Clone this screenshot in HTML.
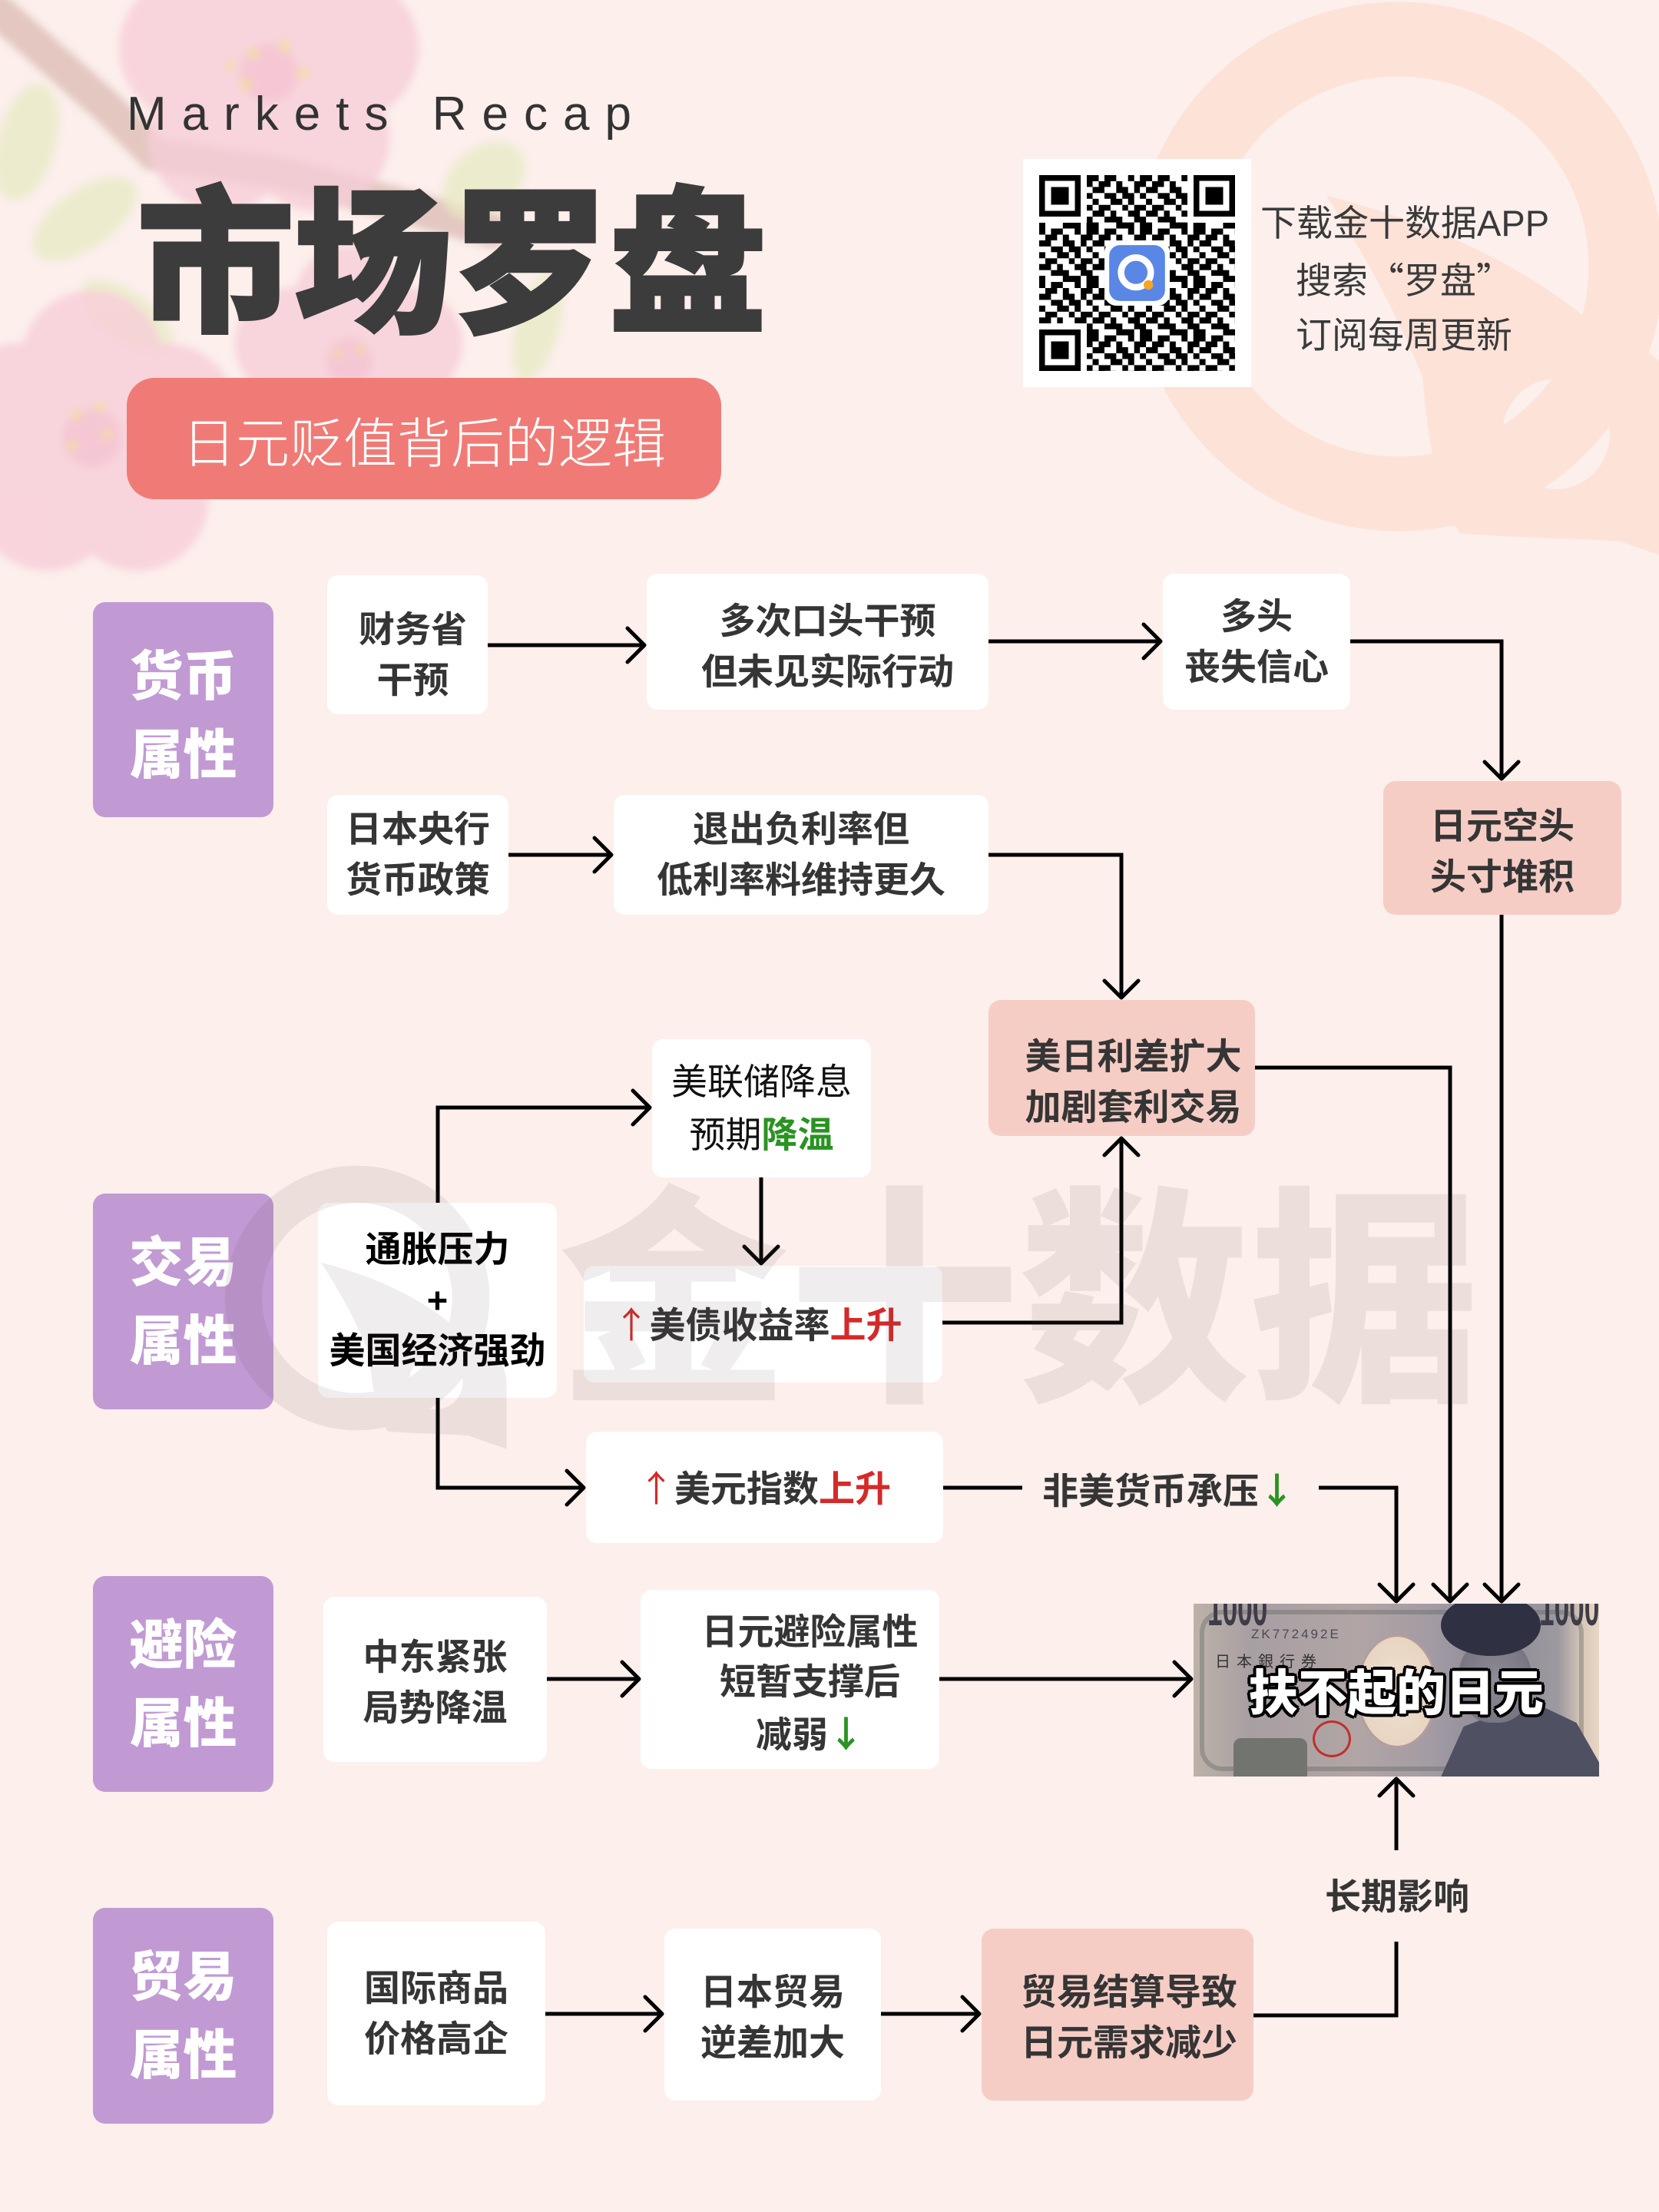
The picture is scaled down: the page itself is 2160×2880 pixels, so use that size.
<!DOCTYPE html>
<html><head><meta charset="utf-8">
<style>
*{margin:0;padding:0;box-sizing:border-box}
html,body{width:2160px;height:2880px;overflow:hidden}
body{position:relative;background:#fcefec;font-family:"Liberation Sans","Noto Sans CJK SC",sans-serif;}
.abs{position:absolute}
.n{position:absolute;background:#fff;border-radius:14px;display:flex;flex-direction:column;align-items:center;justify-content:center;font-size:47px;font-weight:700;color:#353535;line-height:66px;text-align:center;white-space:nowrap}
.pk{background:#f6cdc5;border-radius:16px}
.cat{position:absolute;left:121px;width:235px;height:281px;background:#c19ad4;border-radius:16px;display:flex;flex-direction:column;align-items:center;justify-content:center;color:#fff;font-size:70px;font-weight:900;line-height:102px;white-space:nowrap}
.cj{font-family:"Noto Sans CJK SC",sans-serif}
.red{color:#d42a2a}
.grn{color:#2a9323}
.lbl{position:absolute;font-size:47px;font-weight:700;color:#353535;line-height:66px;white-space:nowrap}
</style></head><body>

<!-- background decorations -->
<svg class="abs" style="left:0;top:0" width="2160" height="900" viewBox="0 0 2160 900">
 <defs><filter id="bl" x="-20%" y="-20%" width="140%" height="140%"><feGaussianBlur stdDeviation="5"/></filter></defs>
 <!-- right logo ring -->
 <circle cx="1821" cy="347" r="296" fill="none" stroke="#fde2d8" stroke-width="97"/>
 <path fill="#fde2d8" fill-rule="evenodd" d="M1727 255 C1830 280 1960 330 2060 410 C2140 440 2210 500 2210 570 L2210 740 L2110 705 C2040 700 1960 700 1900 694 C1868 640 1858 560 1852 490 C1815 400 1770 320 1727 255 Z M1956 565 a70 72 0 1 0 140 0 a70 72 0 1 0 -140 0 Z"/>
 <g filter="url(#bl)">
  <path d="M-30 -10 L140 140 L200 200 L380 228 L640 300" stroke="#d9b7ae" stroke-width="44" fill="none" stroke-linecap="round" opacity="0.7"/>
  <g fill="#e7eac4" opacity="0.75">
   <ellipse cx="35" cy="185" rx="38" ry="78" transform="rotate(15 35 185)"/>
   <ellipse cx="110" cy="285" rx="78" ry="38" transform="rotate(-35 110 285)"/>
   <ellipse cx="630" cy="235" rx="60" ry="42" transform="rotate(-40 630 235)"/>
   <ellipse cx="700" cy="425" rx="28" ry="72" transform="rotate(15 700 425)"/>
   <ellipse cx="165" cy="412" rx="70" ry="32" transform="rotate(35 165 412)"/>
  </g>
  <g fill="#f7cdd9" opacity="0.8">
   <circle cx="350" cy="-10" r="95"/><circle cx="450" cy="63" r="95"/><circle cx="412" cy="180" r="95"/><circle cx="288" cy="180" r="95"/><circle cx="250" cy="63" r="95"/><circle cx="350" cy="95" r="70"/>
   <circle cx="120" cy="470" r="92"/><circle cx="215" cy="539" r="92"/><circle cx="179" cy="651" r="92"/><circle cx="61" cy="651" r="92"/><circle cx="25" cy="539" r="92"/><circle cx="120" cy="570" r="70"/>
   <circle cx="455" cy="392" r="72"/><circle cx="530" cy="447" r="72"/><circle cx="500" cy="537" r="72"/><circle cx="408" cy="537" r="72"/><circle cx="378" cy="447" r="72"/><circle cx="455" cy="470" r="55"/>
  </g>
  <g fill="#f3bccd" opacity="0.55"><circle cx="350" cy="95" r="38"/><circle cx="120" cy="570" r="38"/><circle cx="455" cy="470" r="30"/></g>
  <g fill="#f2dd9c" opacity="0.8"><circle cx="330" cy="70" r="8"/><circle cx="370" cy="60" r="8"/><circle cx="395" cy="95" r="8"/><circle cx="320" cy="110" r="8"/><circle cx="300" cy="85" r="7"/>
   <circle cx="100" cy="540" r="7"/><circle cx="130" cy="530" r="7"/><circle cx="95" cy="580" r="7"/><circle cx="140" cy="565" r="7"/>
   <circle cx="440" cy="460" r="6"/><circle cx="470" cy="455" r="6"/></g>
 </g>
</svg>

<!-- header -->
<div class="abs" style="left:165px;top:118px;font-size:62px;line-height:62px;letter-spacing:20px;color:#333;white-space:nowrap">Markets Recap</div>
<div class="abs" style="left:178px;top:243px;font-size:205px;line-height:205px;font-weight:900;color:#3c3c3c;-webkit-text-stroke:4px #3c3c3c;white-space:nowrap">市场罗盘</div>
<div class="abs" style="left:165px;top:492px;width:774px;height:158px;background:#f07b76;border-radius:36px"></div>
<div class="abs" style="left:165px;top:499px;width:774px;height:158px;line-height:158px;text-align:center;color:#fff;font-size:70px;font-weight:300;white-space:nowrap">日元贬值背后的逻辑</div>

<!-- QR -->
<div class="abs" style="left:1332px;top:207px;width:297px;height:297px;background:#fff"></div>
<svg class="abs" style="left:1353px;top:228px" width="255" height="255" viewBox="0 0 33 33" shape-rendering="crispEdges">
 <defs><pattern id="qp" width="9" height="9" patternUnits="userSpaceOnUse">
  <path fill="#000" d="M0 0h1v1h-1zM2 0h2v1h-2zM6 0h1v1h-1zM8 0h1v1h-1zM1 1h2v1h-2zM4 1h1v1h-1zM7 1h2v1h-2zM0 2h2v1h-2zM4 2h2v1h-2zM7 2h1v1h-1zM2 3h2v1h-2zM5 3h2v1h-2zM8 3h1v1h-1zM0 4h1v1h-1zM3 4h2v1h-2zM6 4h1v1h-1zM1 5h2v1h-2zM5 5h1v1h-1zM7 5h2v1h-2zM0 6h2v1h-2zM3 6h1v1h-1zM6 6h2v1h-2zM2 7h3v1h-3zM7 7h2v1h-2zM0 8h1v1h-1zM4 8h3v1h-3zM8 8h1v1h-1z"/>
 </pattern></defs>
 <rect width="33" height="33" fill="url(#qp)"/>
 <rect x="0" y="0" width="8" height="8" fill="#fff"/><rect x="0" y="0" width="7" height="7" fill="#000"/><rect x="1" y="1" width="5" height="5" fill="#fff"/><rect x="2" y="2" width="3" height="3" fill="#000"/>
 <rect x="25" y="0" width="8" height="8" fill="#fff"/><rect x="26" y="0" width="7" height="7" fill="#000"/><rect x="27" y="1" width="5" height="5" fill="#fff"/><rect x="28" y="2" width="3" height="3" fill="#000"/>
 <rect x="0" y="25" width="8" height="8" fill="#fff"/><rect x="0" y="26" width="7" height="7" fill="#000"/><rect x="1" y="27" width="5" height="5" fill="#fff"/><rect x="2" y="28" width="3" height="3" fill="#000"/>
 <g shape-rendering="auto">
  <rect x="11" y="11" width="11" height="11" rx="2" fill="#fff"/>
  <rect x="11.8" y="11.8" width="9.4" height="9.4" rx="1.8" fill="#5a86e6"/>
  <circle cx="16.3" cy="16.4" r="2.5" fill="none" stroke="#fff" stroke-width="1.1"/>
  <circle cx="18.4" cy="18.5" r="0.8" fill="#f5a623"/>
 </g>
</svg>
<div class="abs" style="left:1641px;top:255px;font-size:47px;line-height:71px;color:#3a3a3a;white-space:nowrap">
 <div>下载金十数据APP</div>
 <div style="padding-left:46px">搜索<span class="cj">“</span>罗盘<span class="cj">”</span></div>
 <div style="padding-left:46px">订阅每周更新</div>
</div>

<!-- category labels -->
<div class="cat" style="top:784px;height:280px;padding-top:16px"><div>货币</div><div>属性</div></div>
<div class="cat" style="top:1554px"><div>交易</div><div>属性</div></div>
<div class="cat" style="top:2052px"><div>避险</div><div>属性</div></div>
<div class="cat" style="top:2484px"><div>贸易</div><div>属性</div></div>

<!-- nodes -->
<div class="n" style="left:426px;top:749px;width:209px;height:181px;padding-top:26px;padding-left:14px"><div>财务省</div><div>干预</div></div>
<div class="n" style="left:842px;top:747px;width:445px;height:177px;padding-top:12px;padding-left:26px"><div>多次口头干预</div><div>但未见实际行动</div></div>
<div class="n" style="left:1514px;top:747px;width:244px;height:177px"><div>多头</div><div>丧失信心</div></div>
<div class="n pk" style="left:1801px;top:1017px;width:310px;height:174px;padding-top:10px"><div>日元空头</div><div>头寸堆积</div></div>
<div class="n" style="left:426px;top:1035px;width:236px;height:156px"><div>日本央行</div><div>货币政策</div></div>
<div class="n" style="left:799px;top:1035px;width:488px;height:156px"><div>退出负利率但</div><div>低利率料维持更久</div></div>
<div class="n pk" style="left:1287px;top:1302px;width:347px;height:177px;padding-top:36px;padding-left:30px"><div>美日利差扩大</div><div>加剧套利交易</div></div>
<div class="n" style="left:849px;top:1353px;width:285px;height:180px;line-height:69px;font-weight:400;color:#111"><div>美联储降息</div><div>预期<b class="grn" style="font-weight:700">降温</b></div></div>
<div class="n" style="left:414px;top:1566px;width:311px;height:254px;color:#000"><div>通胀压力</div><div>+</div><div>美国经济强劲</div></div>
<div class="n" style="left:760px;top:1648px;width:467px;height:152px;padding-right:14px"><div><span class="cj red" style="font-weight:400">↑</span>美债收益率<span class="red">上升</span></div></div>
<div class="n" style="left:763px;top:1864px;width:465px;height:145px"><div><span class="cj red" style="font-weight:400">↑</span>美元指数<span class="red">上升</span></div></div>
<div class="n" style="left:421px;top:2079px;width:291px;height:215px;padding-top:8px"><div>中东紧张</div><div>局势降温</div></div>
<div class="n" style="left:834px;top:2070px;width:389px;height:233px;padding-top:10px;padding-left:52px;line-height:65px"><div>日元避险属性</div><div>短暂支撑后</div><div>减弱<span class="cj grn">↓</span></div></div>
<div class="n" style="left:426px;top:2502px;width:284px;height:239px"><div>国际商品</div><div>价格高企</div></div>
<div class="n" style="left:865px;top:2511px;width:282px;height:224px;padding-top:8px"><div>日本贸易</div><div>逆差加大</div></div>
<div class="n pk" style="left:1278px;top:2511px;width:354px;height:224px;padding-top:8px;padding-left:30px"><div>贸易结算导致</div><div>日元需求减少</div></div>

<!-- labels -->
<div class="lbl" style="left:1357px;top:1905px">非美货币承压<span class="cj grn">↓</span></div>
<div class="lbl" style="left:1725px;top:2437px">长期影响</div>

<!-- yen bill -->
<div class="abs" style="left:1554px;top:2088px;width:528px;height:225px;overflow:hidden;background:linear-gradient(90deg,#bdb2a8 0%,#a89fa3 14%,#b1a5a5 40%,#a49ca4 58%,#8c8a98 74%,#9d99a0 90%,#d9c8b8 96%,#e8d7c5 100%)">
 <div class="abs" style="left:8px;top:8px;width:500px;height:210px;border:6px solid rgba(90,95,90,0.35);border-radius:30px"></div>
 <div class="abs" style="left:18px;top:-34px;font-size:64px;font-weight:700;color:#3e3c48;transform:scaleX(0.55);transform-origin:left top;line-height:80px">1000</div>
 <div class="abs" style="left:450px;top:-34px;font-size:64px;font-weight:700;color:#3e3c48;transform:scaleX(0.55);transform-origin:left top;line-height:80px">1000</div>
 <div class="abs" style="left:75px;top:30px;font-size:17px;color:#4a4a55;letter-spacing:3px;line-height:20px">ZK772492E</div>
 <div class="abs" style="left:28px;top:62px;font-size:20px;color:#333;letter-spacing:8px;line-height:24px;font-family:'Noto Sans CJK JP',sans-serif">日本銀行券</div>
 <div class="abs" style="left:52px;top:175px;width:96px;height:55px;background:#72746f;border-radius:10px 10px 0 0"></div>
 <div class="abs" style="left:212px;top:40px;width:106px;height:148px;border-radius:50%;background:radial-gradient(#f1e2d2,#e4cfbb);border:3px solid #b59c9e"></div>
 <div class="abs" style="left:155px;top:152px;width:50px;height:48px;border-radius:50%;border:3px solid #c0302b"></div>
 <div class="abs" style="left:320px;top:130px;width:210px;height:100px;background:#4f5162;clip-path:polygon(15% 30%,40% 10%,60% 0,85% 25%,100% 80%,100% 100%,0 100%)"></div>
 <div class="abs" style="left:345px;top:45px;width:95px;height:110px;border-radius:45%;background:radial-gradient(#8f8c95,#6f6d7a)"></div>
 <div class="abs" style="left:322px;top:-12px;width:130px;height:80px;border-radius:50%;background:#2f3142"></div>
 <div class="abs" style="left:0;top:77px;width:528px;height:80px;line-height:80px;text-align:center;font-size:64px;font-weight:900;color:#fff;white-space:nowrap;text-shadow:4px 0 #000,-4px 0 #000,0 4px #000,0 -4px #000,3px 3px #000,-3px 3px #000,3px -3px #000,-3px -3px #000">扶不起的日元</div>
</div>

<!-- connectors -->
<svg class="abs" style="left:0;top:0" width="2160" height="2880" viewBox="0 0 2160 2880">
 <g fill="none" stroke="#000" stroke-width="5" stroke-linejoin="miter">
  <path d="M635 840H839"/>
  <path d="M1287 835H1511"/>
  <path d="M1758 835H1955V1014"/>
  <path d="M662 1113H796"/>
  <path d="M1287 1113H1460V1299"/>
  <path d="M1955 1191V2085"/>
  <path d="M1634 1390H1888V2085"/>
  <path d="M570 1566V1442H846"/>
  <path d="M991 1533V1645"/>
  <path d="M1227 1722H1460V1482"/>
  <path d="M570 1820V1937H760"/>
  <path d="M1228 1937H1331"/>
  <path d="M1717 1937H1818V2085"/>
  <path d="M712 2186H832"/>
  <path d="M1223 2186H1551"/>
  <path d="M1818 2409V2316"/>
  <path d="M1818 2528V2624H1632"/>
  <path d="M710 2622H862"/>
  <path d="M1147 2622H1275"/>
 </g>
 <g fill="none" stroke="#000" stroke-width="5" stroke-linecap="round" stroke-linejoin="round">
  <path d="M817 818L839 840L817 862"/>
  <path d="M1489 813L1511 835L1489 857"/>
  <path d="M1933 992L1955 1014L1977 992"/>
  <path d="M774 1091L796 1113L774 1135"/>
  <path d="M1438 1277L1460 1299L1482 1277"/>
  <path d="M1933 2063L1955 2085L1977 2063"/>
  <path d="M1866 2063L1888 2085L1910 2063"/>
  <path d="M824 1420L846 1442L824 1464"/>
  <path d="M969 1623L991 1645L1013 1623"/>
  <path d="M1438 1504L1460 1482L1482 1504"/>
  <path d="M738 1915L760 1937L738 1959"/>
  <path d="M1796 2063L1818 2085L1840 2063"/>
  <path d="M810 2164L832 2186L810 2208"/>
  <path d="M1529 2164L1551 2186L1529 2208"/>
  <path d="M1796 2338L1818 2316L1840 2338"/>
  <path d="M840 2600L862 2622L840 2644"/>
  <path d="M1253 2600L1275 2622L1253 2644"/>
 </g>
</svg>

<!-- watermark overlay -->
<svg class="abs" style="left:0;top:0;pointer-events:none" width="2160" height="2880" viewBox="0 0 2160 2880">
 <g opacity="0.1" fill="#5a4a4c">
  <g transform="translate(465 1690) scale(0.5) translate(-1821 -347)">
   <circle cx="1821" cy="347" r="296" fill="none" stroke="#5a4a4c" stroke-width="97"/>
   <path fill-rule="evenodd" d="M1727 255 C1830 280 1960 330 2060 410 C2140 440 2210 500 2210 570 L2210 740 L2110 705 C2040 700 1960 700 1900 694 C1868 640 1858 560 1852 490 C1815 400 1770 320 1727 255 Z M1956 565 a70 72 0 1 0 140 0 a70 72 0 1 0 -140 0 Z"/>
  </g>
  <text x="727" y="1800" font-size="300" font-weight="900" font-family="Liberation Sans, Noto Sans CJK SC, sans-serif">金十数据</text>
 </g>
</svg>

</body></html>
